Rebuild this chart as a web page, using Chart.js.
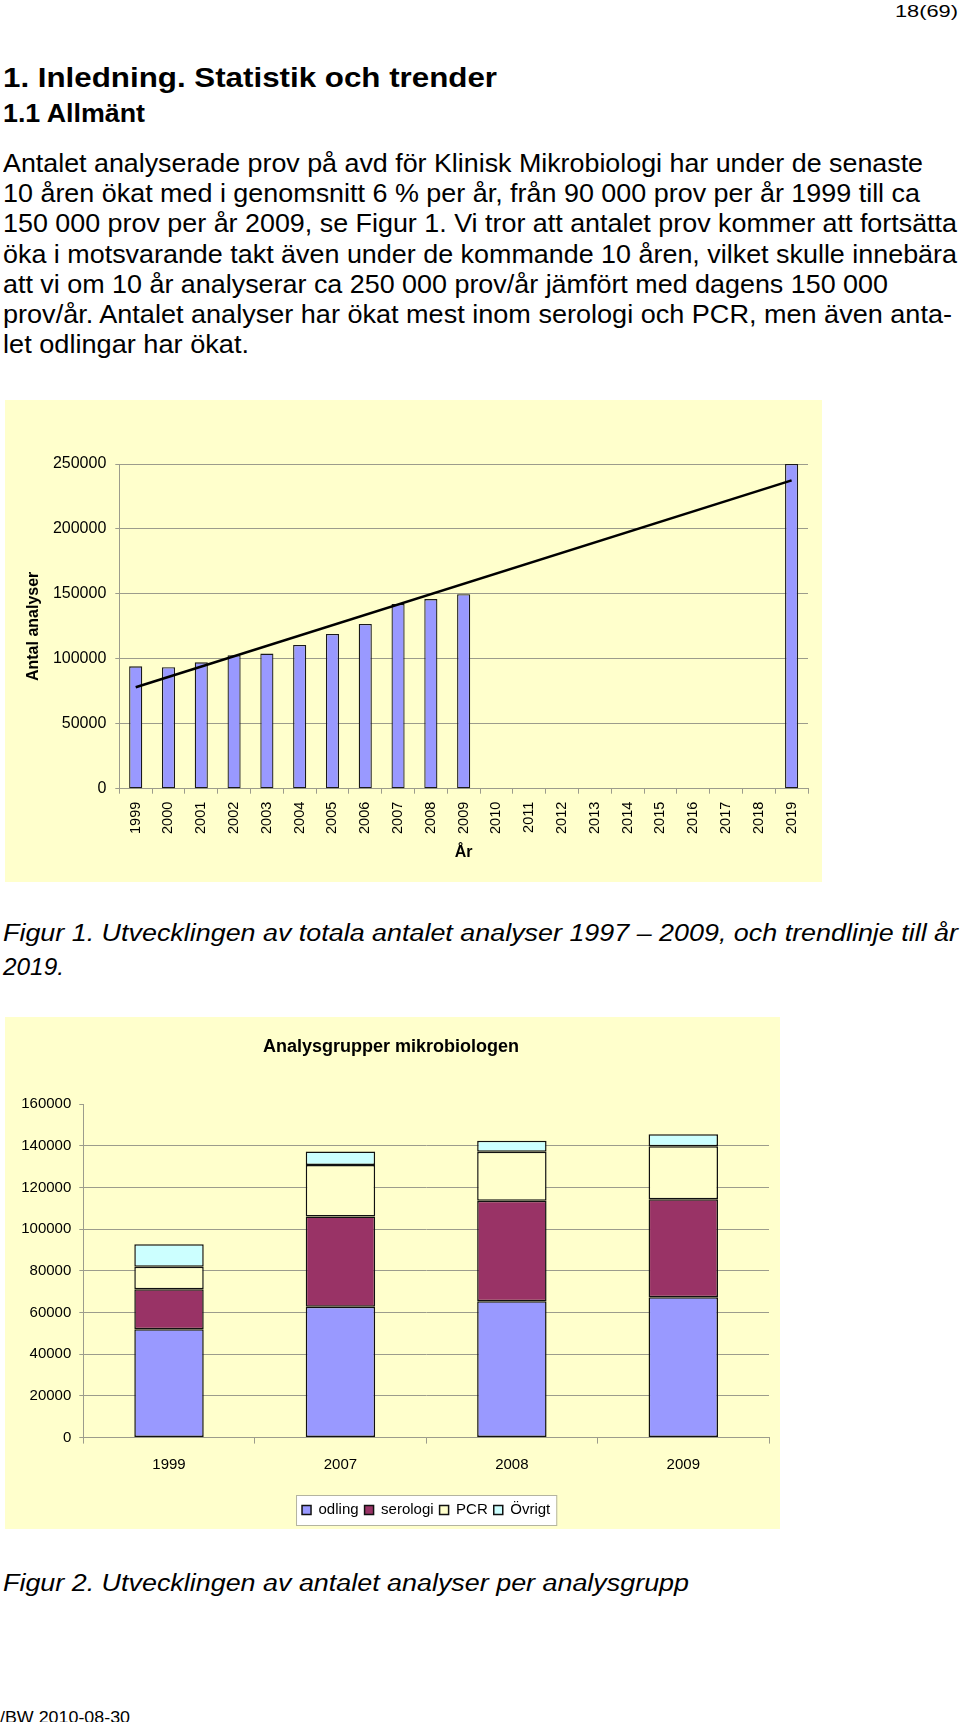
<!DOCTYPE html>
<html>
<head>
<meta charset="utf-8">
<script src="https://cdn.jsdelivr.net/npm/chart.js@4.4.1/dist/chart.umd.min.js"></script>
<style>
  body { margin: 0; background: #fff; width: 960px; height: 1722px; position: relative; overflow: hidden;
         font-family: "Liberation Sans", Arial, sans-serif; color: #000; }
  .t { position: absolute; left: 3px; white-space: nowrap; line-height: 1; transform-origin: 0 0; }
  .body { font-size: 25px; }
  .cap { font-size: 23px; font-style: italic; }
  .box { position: absolute; background: #ffffcc; }
</style>
</head>
<body>

<div class="t" style="left:895px;top:3px;font-size:17px" data-w="63">18(69)</div>
<div class="t" style="top:64px;font-size:28px;font-weight:bold" data-w="494">1. Inledning. Statistik och trender</div>
<div class="t" style="top:100px;font-size:26px;font-weight:bold" data-w="142">1.1 Allmänt</div>

<div class="t body" style="top:151px" data-w="920">Antalet analyserade prov på avd för Klinisk Mikrobiologi har under de senaste</div>
<div class="t body" style="top:181px" data-w="917">10 åren ökat med i genomsnitt 6 % per år, från 90 000 prov per år 1999 till ca</div>
<div class="t body" style="top:211px" data-w="954">150 000 prov per år 2009, se Figur 1. Vi tror att antalet prov kommer att fortsätta</div>
<div class="t body" style="top:241.5px" data-w="954">öka i motsvarande takt även under de kommande 10 åren, vilket skulle innebära</div>
<div class="t body" style="top:271.5px" data-w="885">att vi om 10 år analyserar ca 250 000 prov/år jämfört med dagens 150 000</div>
<div class="t body" style="top:302px" data-w="949">prov/år. Antalet analyser har ökat mest inom serologi och PCR, men även anta-</div>
<div class="t body" style="top:332px" data-w="246">let odlingar har ökat.</div>

<div class="box" style="left:5px;top:400px;width:817px;height:482px">
  <canvas id="chartTotal"></canvas>
</div>

<div class="t cap" style="top:922px" data-w="955">Figur 1. Utvecklingen av totala antalet analyser 1997 – 2009, och trendlinje till år</div>
<div class="t cap" style="top:955.5px" data-w="61">2019.</div>

<div class="box" style="left:5px;top:1017px;width:775px;height:512px">
  <canvas id="chartGroups"></canvas>
</div>

<div class="t cap" style="top:1572px" data-w="686">Figur 2. Utvecklingen av antalet analyser per analysgrupp</div>
<div class="t" style="left:0;top:1709px;font-size:17px" data-w="130">/BW 2010-08-30</div>

<script>
// --- data figur 1 ---
var years = ["1999","2000","2001","2002","2003","2004","2005","2006","2007","2008","2009",
             "2010","2011","2012","2013","2014","2015","2016","2017","2018","2019"];
var totals = [94200, 93500, 97300, 102700, 104000, 110700, 119100, 126800, 142200, 146000, 149800,
              null, null, null, null, null, null, null, null, null, 250000];
var trendYears = ["1999", "2019"];
var trendValues = [78100, 237400];

// --- data figur 2 ---
var groupYears = ["1999", "2007", "2008", "2009"];
var odling = [52000, 62800, 65400, 67300];
var serologi = [19200, 43200, 48200, 47000];
var pcr = [10700, 24800, 23500, 25400];
var ovrigt = [10800, 6400, 5300, 5800];

// text rader ska ha samma bredd som i originalet
document.querySelectorAll('.t[data-w]').forEach(function(el) {
  var w = el.getBoundingClientRect().width;
  el.style.transform = 'scaleX(' + (el.dataset.w / w) + ')';
});

Chart.defaults.font.family = '"Liberation Sans", Arial, sans-serif';
Chart.defaults.color = '#000';
var gridGray = '#9c9c8c';
var plainNumber = function(v) { return String(v); };

new Chart("chartTotal", {
  type: "bar",
  data: {
    labels: years,
    datasets: [{
      type: "line",
      data: trendYears.map(function(y, i) { return { x: y, y: trendValues[i] }; }),
      borderColor: "#000",
      borderWidth: 2.6,
      pointRadius: 0,
      spanGaps: true
    }, {
      data: totals,
      backgroundColor: "#9999ff",
      borderColor: "#1a1a1a",
      borderWidth: 1.3,
      borderSkipped: false,
      categoryPercentage: 0.4,
      barPercentage: 1
    }]
  },
  options: {
    responsive: true,
    maintainAspectRatio: false,
    animation: false,
    layout: { padding: { left: 10, right: 14, top: 64, bottom: 0 } },
    plugins: { legend: { display: false }, tooltip: { enabled: false } },
    scales: {
      x: {
        grid: { drawOnChartArea: false, color: gridGray, tickLength: 5 },
        border: { color: gridGray },
        ticks: { font: { size: 14.5 }, minRotation: 90, maxRotation: 90, padding: 8 },
        title: { display: true, text: "År", font: { size: 16, weight: "bold" }, padding: { top: 0, bottom: 20 } },
        afterFit: function(s) { s.height = 93.3; }
      },
      y: {
        min: 0, max: 250000,
        grid: { color: gridGray, tickLength: 4 },
        border: { color: gridGray },
        ticks: { stepSize: 50000, font: { size: 16 }, padding: 9, callback: plainNumber },
        title: { display: true, text: "Antal analyser", font: { size: 16, weight: "bold" }, padding: { top: 9, bottom: 0 } },
        afterFit: function(s) { s.width = 104.3; }
      }
    }
  }
});

// vit ram bakom förklaringen
var legendFrame = {
  id: "legendFrame",
  beforeDraw: function(chart) {
    var boxes = chart.legend && chart.legend.legendHitBoxes;
    if (!boxes || !boxes.length) return;
    var left = boxes[0].left - 6;
    var last = boxes[boxes.length - 1];
    var right = last.left + last.width + 6;
    var top = boxes[0].top - 7.5;
    var h = boxes[0].height + 15;
    var ctx = chart.ctx;
    ctx.save();
    ctx.fillStyle = "#fff";
    ctx.fillRect(left, top, right - left, h);
    ctx.strokeStyle = "#b4b4a0";
    ctx.lineWidth = 1;
    ctx.strokeRect(left + 0.5, top + 0.5, right - left, h);
    ctx.restore();
  }
};

function segment(label, values, color) {
  return {
    label: label,
    data: values,
    backgroundColor: color,
    borderColor: "#111",
    borderWidth: 1.5,
    borderSkipped: false,
    categoryPercentage: 0.405,
    barPercentage: 1
  };
}

new Chart("chartGroups", {
  type: "bar",
  data: {
    labels: groupYears,
    datasets: [
      segment("odling", odling, "#9999ff"),
      segment("serologi", serologi, "#993366"),
      segment("PCR", pcr, "#ffffcc"),
      segment("Övrigt", ovrigt, "#ccffff")
    ]
  },
  plugins: [legendFrame],
  options: {
    responsive: true,
    maintainAspectRatio: false,
    animation: false,
    layout: { padding: { left: 8, right: 11, top: 19, bottom: 1.5 } },
    plugins: {
      title: {
        display: true,
        text: "Analysgrupper mikrobiologen",
        font: { size: 18, weight: "bold" },
        padding: { top: 0, bottom: 46.4 }
      },
      legend: {
        position: "bottom",
        fullSize: false,
        labels: { boxWidth: 9, boxHeight: 9, padding: 6, font: { size: 15 } }
      },
      tooltip: { enabled: false }
    },
    scales: {
      x: {
        stacked: true,
        grid: { drawOnChartArea: false, color: gridGray, tickLength: 6 },
        border: { color: gridGray },
        ticks: { font: { size: 15 }, padding: 12 },
        afterFit: function(s) { s.height = 58.9; }
      },
      y: {
        stacked: true,
        min: 0, max: 160000,
        grid: {
          color: function(c) { return c.tick && c.tick.value === 160000 ? "rgba(0,0,0,0)" : gridGray; },
          tickColor: gridGray,
          tickLength: 4
        },
        border: { color: gridGray },
        ticks: { stepSize: 20000, font: { size: 15 }, padding: 8, callback: plainNumber },
        afterFit: function(s) { s.width = 70.3; }
      }
    }
  }
});
</script>
</body>
</html>
